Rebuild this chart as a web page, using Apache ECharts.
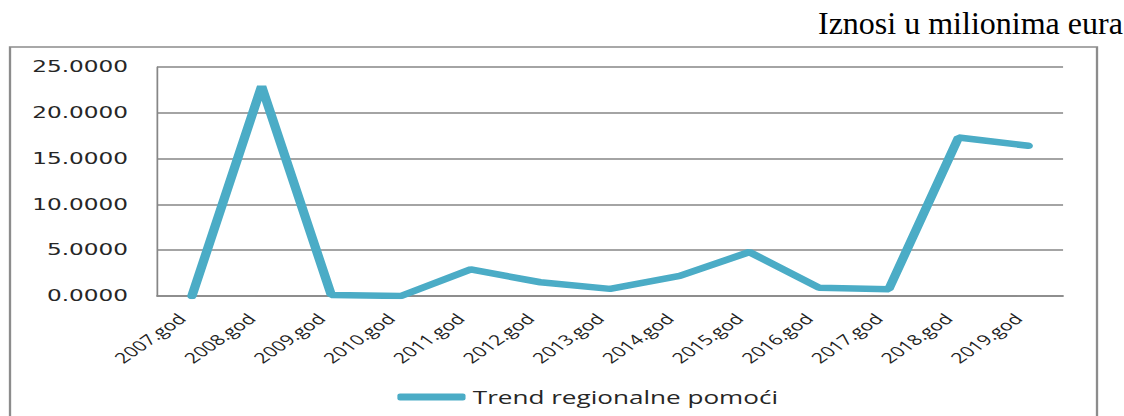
<!DOCTYPE html>
<html>
<head>
<meta charset="utf-8">
<title>Trend regionalne pomoći</title>
<script src="https://cdn.jsdelivr.net/npm/echarts@6/dist/echarts.min.js"></script>
<style>
  html, body {
    margin: 0;
    padding: 0;
    background: #fff;
    overflow: hidden;
  }
  /* the source picture is stretched sideways, so the chart is drawn narrow and widened */
  #chart {
    width: 775px;
    height: 416px;
    transform: scaleX(1.4503);
    transform-origin: 0 0;
  }
</style>
</head>
<body>
<div id="chart"></div>
<script>
const STRETCH = 1124 / 775

const years = ['2007.god', '2008.god', '2009.god', '2010.god', '2011.god', '2012.god', '2013.god',
  '2014.god', '2015.god', '2016.god', '2017.god', '2018.god', '2019.god']
const pomoc = [0, 22.9, 0.1, 0, 2.9, 1.5, 0.78, 2.2, 4.8, 0.9, 0.75, 17.3, 16.4]
const seriesName = 'Trend regionalne pomoći'
const unitText = 'Iznosi u milionima eura'

const chart = echarts.init(document.getElementById('chart'), null, { renderer: 'svg' })

const option = {
  animation: false,
  graphic: [
    {
      type: 'rect',
      shape: { x: 6.9, y: 47, width: 749.5, height: 390 },
      style: { fill: 'none', stroke: '#8c8c8c', lineWidth: 1.6 }
    },
    {
      type: 'text',
      x: 564,
      y: 7,
      scaleX: 1 / STRETCH,
      style: {
        text: unitText,
        font: '32px "Liberation Serif", "Times New Roman", serif',
        fill: '#000'
      }
    }
  ],
  legend: {
    left: 269,
    top: 383,
    icon: 'roundRect',
    itemWidth: 47,
    itemHeight: 7,
    itemGap: 10,
    textStyle: {
      fontFamily: 'Open Sans',
      fontSize: 18,
      color: '#262626'
    },
    data: [seriesName]
  },
  grid: {
    left: 108.3,
    right: 42,
    top: 67,
    bottom: 120
  },
  xAxis: {
    type: 'category',
    data: years,
    boundaryGap: true,
    axisLine: { lineStyle: { color: '#868686', width: 1.5 } },
    axisTick: { show: false },
    axisLabel: {
      interval: 0,
      rotate: 45,
      margin: 13,
      padding: [0, 10, 0, 0],
      fontFamily: 'Open Sans',
      fontSize: 14.5,
      color: '#1f1f1f'
    }
  },
  yAxis: {
    type: 'value',
    min: 0,
    max: 25,
    interval: 5,
    axisLine: { show: true, lineStyle: { color: '#868686', width: 1.2 } },
    axisTick: { show: false },
    splitLine: { lineStyle: { color: '#868686', width: 1.5 } },
    axisLabel: {
      margin: 20,
      fontFamily: 'DejaVu Sans',
      fontSize: 16,
      color: '#262626',
      formatter: v => v.toFixed(4)
    }
  },
  series: [
    {
      name: seriesName,
      type: 'line',
      data: pomoc,
      symbol: 'none',
      color: '#4bacc6',
      lineStyle: { width: 6.5, color: '#4bacc6', cap: 'round' }
    }
  ]
}

chart.setOption(option)
</script>
</body>
</html>
